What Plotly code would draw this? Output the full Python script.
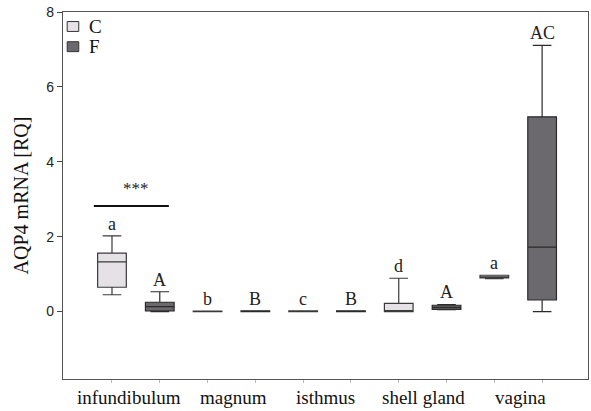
import plotly.graph_objects as go

categories = ["infundibulum", "magnum", "isthmus", "shell gland", "vagina"]

# Control (C) box statistics
c_low = [0.45, 0.0, 0.0, 0.0, 0.88]
c_q1 = [0.65, 0.0, 0.0, 0.0, 0.90]
c_med = [1.33, 0.0, 0.01, 0.01, 0.93]
c_q3 = [1.56, 0.01, 0.02, 0.22, 0.97]
c_high = [2.02, 0.01, 0.02, 0.89, 0.97]

# F box statistics
f_low = [0.0, 0.0, 0.0, 0.05, 0.0]
f_q1 = [0.02, 0.0, 0.0, 0.06, 0.31]
f_med = [0.13, 0.01, 0.01, 0.11, 1.72]
f_q3 = [0.25, 0.02, 0.02, 0.17, 5.20]
f_high = [0.53, 0.02, 0.02, 0.19, 7.11]

c_letters = ["a", "b", "c", "d", "a"]
f_letters = ["A", "B", "B", "A", "AC"]

c_pos = [1, 3, 5, 7, 9]
f_pos = [2, 4, 6, 8, 10]
group_pos = [1.5, 3.5, 5.5, 7.5, 9.5]

serif = "Liberation Serif, Times New Roman, serif"
line_col = "#3a3a3a"
c_fill = "#e5e1e7"
f_fill = "#6b696d"

fig = go.Figure()
fig.add_trace(go.Box(
    name="C", x=c_pos, q1=c_q1, median=c_med, q3=c_q3,
    lowerfence=c_low, upperfence=c_high,
    fillcolor=c_fill, line=dict(color=line_col, width=1.2),
    width=0.6, whiskerwidth=0.65, boxpoints=False, showlegend=False,
))
fig.add_trace(go.Box(
    name="F", x=f_pos, q1=f_q1, median=f_med, q3=f_q3,
    lowerfence=f_low, upperfence=f_high,
    fillcolor=f_fill, line=dict(color="#2a2a2a", width=1.2),
    width=0.6, whiskerwidth=0.65, boxpoints=False, showlegend=False,
))

annotations = []
for p, hi, t in zip(c_pos, c_high, c_letters):
    annotations.append(dict(x=p, y=hi, text=t, showarrow=False, yanchor="bottom",
                            yshift=0, font=dict(family=serif, size=18, color="#222")))
for p, hi, t in zip(f_pos, f_high, f_letters):
    annotations.append(dict(x=p, y=hi, text=t, showarrow=False, yanchor="bottom",
                            yshift=0, font=dict(family=serif, size=18, color="#222")))
annotations.append(dict(x=1.5, y=2.97, text="***", showarrow=False, yanchor="bottom",
                        font=dict(family=serif, size=17, color="#222")))
label_shift = [-7, 2, -2, 1, 2]
for g, name, sh in zip(group_pos, categories, label_shift):
    annotations.append(dict(x=g, y=0, xref="x", yref="paper", yanchor="top", yshift=-6,
                            xshift=sh, text=name, showarrow=False,
                            font=dict(family=serif, size=19, color="#111")))

# manual legend
legend_items = [("C", c_fill, 0.974, 0.947), ("F", f_fill, 0.919, 0.892)]
for name, col, y1, y0 in legend_items:
    fig.add_shape(type="rect", xref="paper", yref="paper", x0=0.008, x1=0.030,
                  y0=y0, y1=y1, fillcolor=col, line=dict(color="#333", width=1))
    annotations.append(dict(x=0.045, y=(y0 + y1) / 2, xref="paper", yref="paper",
                            xanchor="left", yanchor="middle", text=name, showarrow=False,
                            font=dict(family=serif, size=19, color="#111")))

fig.add_shape(type="line", x0=0.62, x1=2.19, y0=2.82, y1=2.82,
              line=dict(color="#111", width=2))

fig.update_layout(
    width=591, height=411,
    margin=dict(l=63, r=3, t=12, b=32, autoexpand=False),
    paper_bgcolor="white", plot_bgcolor="white",
    showlegend=False,
    annotations=annotations,
    xaxis=dict(range=[-0.025, 10.96], tickvals=c_pos + f_pos, ticktext=[""] * 10,
               ticks="outside", ticklen=3, tickcolor="#bbb", automargin=False,
               showgrid=False, zeroline=False, showline=True, linecolor="#555",
               linewidth=1.2, mirror=True),
    yaxis=dict(range=[-1.8, 8], tickvals=[0, 2, 4, 6, 8], automargin=False,
               ticks="outside", ticklen=5, tickcolor="#444",
               tickfont=dict(family="Liberation Sans, Arial, sans-serif", size=14, color="#222"),
               showgrid=False, zeroline=False, showline=True, linecolor="#555",
               linewidth=1.2, mirror=True,
               title=dict(text="AQP4 mRNA [RQ]", font=dict(family=serif, size=20, color="#111"),
                          standoff=12)),
)

fig.write_html("out.html", config={"displayModeBar": False},
               post_script="document.body.style.margin='0';document.body.style.overflow='hidden';")
